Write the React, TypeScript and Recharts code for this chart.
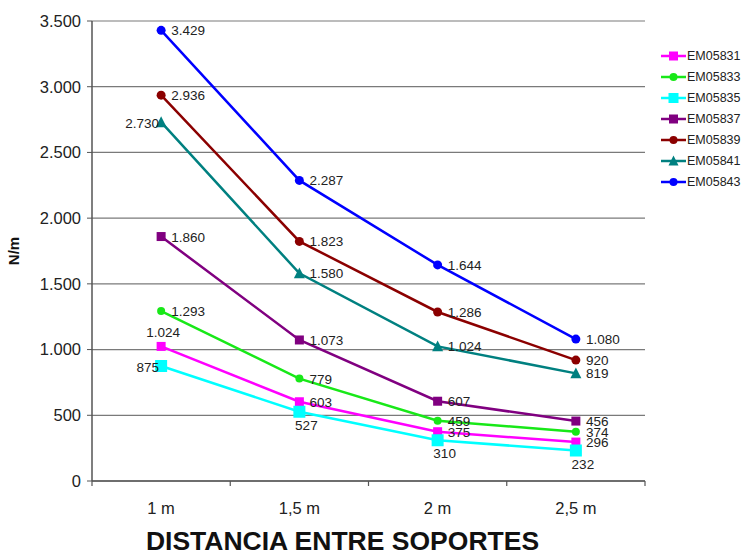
import React from "react";
import {
  LineChart,
  Line,
  XAxis,
  YAxis,
  CartesianGrid,
  LabelList,
  Label,
} from "recharts";

// distancias entre soportes
const categories = ["1 m", "1,5 m", "2 m", "2,5 m"];
const yTicks = [0, 500, 1000, 1500, 2000, 2500, 3000, 3500];

// carga admisible N/m por modelo
const em05831 = [1024, 603, 375, 296];
const em05833 = [1293, 779, 459, 374];
const em05835 = [875, 527, 310, 232];
const em05837 = [1860, 1073, 607, 456];
const em05839 = [2936, 1823, 1286, 920];
const em05841 = [2730, 1580, 1024, 819];
const em05843 = [3429, 2287, 1644, 1080];

type Shape = "square" | "circle" | "triangle";

const series: { name: string; values: number[]; color: string; shape: Shape; size: number }[] = [
  { name: "EM05831", values: em05831, color: "#FF00FF", shape: "square", size: 9 },
  { name: "EM05833", values: em05833, color: "#18E818", shape: "circle", size: 4 },
  { name: "EM05835", values: em05835, color: "#00FFFF", shape: "square", size: 12 },
  { name: "EM05837", values: em05837, color: "#800080", shape: "square", size: 9 },
  { name: "EM05839", values: em05839, color: "#8B0000", shape: "circle", size: 4.5 },
  { name: "EM05841", values: em05841, color: "#008080", shape: "triangle", size: 11 },
  { name: "EM05843", values: em05843, color: "#0000FF", shape: "circle", size: 4.5 },
];

// donde va cada etiqueta de valor (por defecto a la derecha)
const labelPlace: Record<string, string[]> = {
  EM05831: ["above", "right", "right", "right"],
  EM05835: ["left", "below", "below", "below"],
  EM05841: ["left", "right", "right", "right"],
};

const data = categories.map((cat, i) => {
  const row: Record<string, string | number> = { cat };
  series.forEach((s) => (row[s.name] = s.values[i]));
  return row;
});

const fmt = (v: number) => v.toLocaleString("de-DE");
const FONT = '"Liberation Sans", Arial, Helvetica, sans-serif';
const W = 745;
const H = 553;
const M = { top: 21, right: 100, bottom: 42, left: 32 };
const PLOT_W = W - M.left - 60 - M.right;
const HALF = PLOT_W / categories.length / 2;

function Marker({ cx, cy, shape, size, color }: { cx: number; cy: number; shape: Shape; size: number; color: string }) {
  if (shape === "circle") return <circle cx={cx} cy={cy} r={size} fill={color} />;
  if (shape === "triangle") {
    const h = size * 0.9;
    return (
      <polygon
        points={`${cx},${cy - h / 2 - 1} ${cx - size / 2},${cy + h / 2} ${cx + size / 2},${cy + h / 2}`}
        fill={color}
      />
    );
  }
  return <rect x={cx - size / 2} y={cy - size / 2} width={size} height={size} fill={color} />;
}

const makeLabel = (name: string) => (props: any) => {
  const { x, y, value, index } = props;
  const place = labelPlace[name]?.[index] ?? "right";
  let tx = x + 10;
  let ty = y + 5;
  let anchor: "start" | "middle" | "end" = "start";
  if (place === "left") {
    tx = x - 2;
    ty = y + 6;
    anchor = "end";
  } else if (place === "above") {
    tx = x + 2;
    ty = y - 9;
    anchor = "middle";
  } else if (place === "below") {
    tx = x + 7;
    ty = y + 18;
    anchor = "middle";
  }
  return (
    <text x={tx} y={ty} textAnchor={anchor} fontSize={13.5} fill="#222" fontFamily={FONT}>
      {fmt(Number(value))}
    </text>
  );
};

const XTick = (props: any) => {
  const { x, y, payload, index } = props;
  return (
    <g>
      <line x1={x - HALF} x2={x - HALF} y1={y} y2={y + 5} stroke="#555" strokeWidth={1.2} />
      {index === categories.length - 1 && (
        <line x1={x + HALF} x2={x + HALF} y1={y} y2={y + 5} stroke="#555" strokeWidth={1.2} />
      )}
      <text x={x} y={y + 33} textAnchor="middle" fontSize={16.5} fill="#222" fontFamily={FONT}>
        {payload.value}
      </text>
    </g>
  );
};

function LegendBox() {
  return (
    <div style={{ position: "absolute", left: 660, top: 45, fontFamily: FONT }}>
      {series.map((s) => (
        <div key={s.name} style={{ display: "flex", alignItems: "center", height: 21.1 }}>
          <svg width={27} height={16}>
            <line x1={1} x2={26} y1={8} y2={8} stroke={s.color} strokeWidth={2.5} />
            <Marker cx={13.5} cy={8} shape={s.shape} size={s.shape === "circle" ? 4 : Math.min(s.size, 10)} color={s.color} />
          </svg>
          <span style={{ fontSize: 12.5, color: "#222" }}>{s.name}</span>
        </div>
      ))}
    </div>
  );
}

export default function App() {
  return (
    <div style={{ position: "absolute", left: 0, top: 0, width: W, height: H, background: "#fff" }}>
      <LineChart width={W} height={H} data={data} margin={M} style={{ fontFamily: FONT }}>
        <CartesianGrid stroke="#7a7a7a" strokeWidth={1.2} vertical={false} />
        <XAxis
          dataKey="cat"
          height={30}
          padding={{ left: HALF, right: HALF }}
          axisLine={{ stroke: "#555", strokeWidth: 1.5 }}
          tickLine={false}
          tickSize={0}
          tickMargin={0}
          tick={<XTick />}
          interval={0}
        >
          <Label
            content={({ viewBox }: any) => (
              <text
                x={viewBox.x + viewBox.width / 2 - 26}
                y={viewBox.y + 69}
                textAnchor="middle"
                fontSize={26.5}
                fontWeight="bold"
                fill="#111"
                fontFamily={FONT}
              >
                DISTANCIA ENTRE SOPORTES
              </text>
            )}
          />
        </XAxis>
        <YAxis
          width={60}
          domain={[0, 3500]}
          ticks={yTicks}
          interval={0}
          tickFormatter={fmt}
          axisLine={{ stroke: "#555", strokeWidth: 1.5 }}
          tickLine={{ stroke: "#555" }}
          tickSize={5}
          tickMargin={6}
          tick={{ fontSize: 16.5, fill: "#222", fontFamily: FONT }}
        >
          <Label
            content={({ viewBox }: any) => {
              const cx = viewBox.x - 13;
              const cy = viewBox.y + viewBox.height / 2;
              return (
                <text
                  x={cx}
                  y={cy}
                  transform={`rotate(-90 ${cx} ${cy})`}
                  textAnchor="middle"
                  fontSize={15}
                  fontWeight="bold"
                  fill="#111"
                  fontFamily={FONT}
                >
                  N/m
                </text>
              );
            }}
          />
        </YAxis>
        <YAxis
          yAxisId="borde"
          orientation="right"
          width={0}
          domain={[0, 3500]}
          tick={false}
          tickLine={false}
          axisLine={{ stroke: "#7a7a7a", strokeWidth: 1.2 }}
        />
        {series.map((s) => (
          <Line
            key={s.name}
            dataKey={s.name}
            stroke={s.color}
            strokeWidth={2.5}
            isAnimationActive={false}
            dot={(p: any) => <Marker key={`${s.name}-${p.index}`} cx={p.cx} cy={p.cy} shape={s.shape} size={s.size} color={s.color} />}
            activeDot={false}
          >
            <LabelList dataKey={s.name} content={makeLabel(s.name)} />
          </Line>
        ))}
      </LineChart>
      <LegendBox />
    </div>
  );
}
